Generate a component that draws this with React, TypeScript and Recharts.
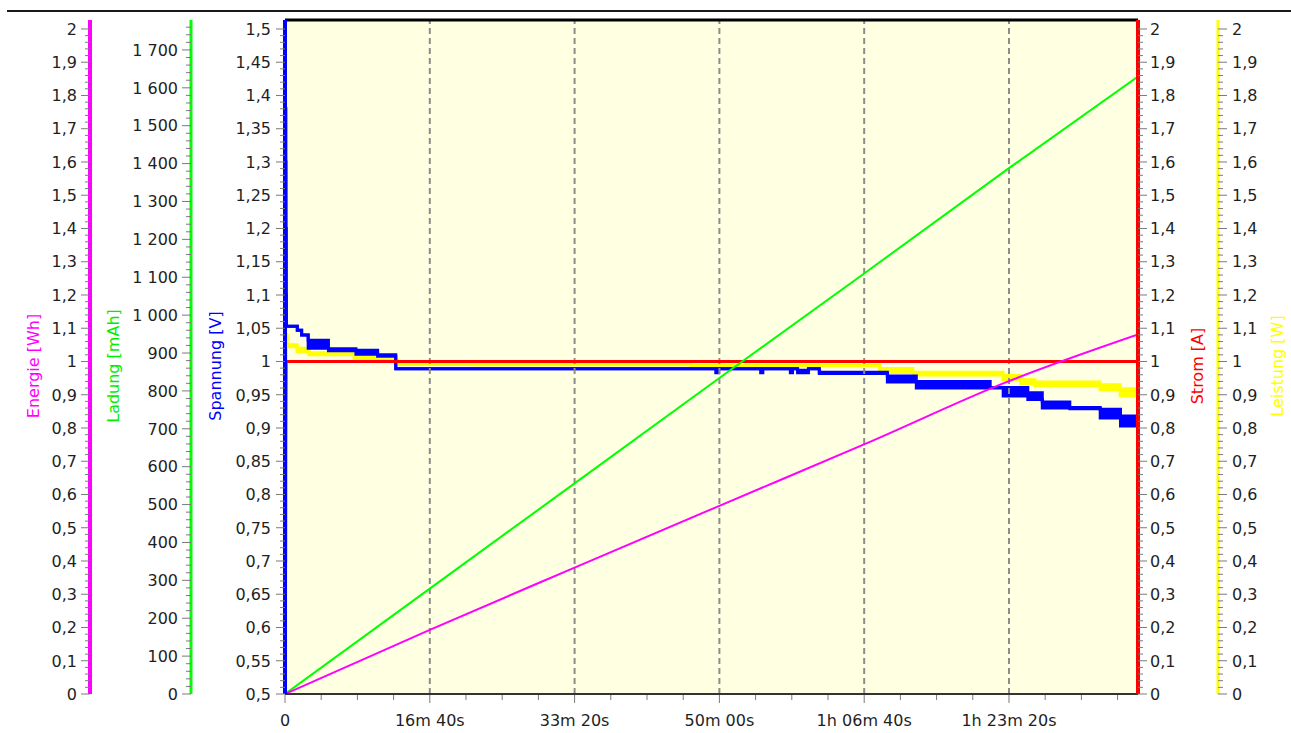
import React from "react";
import { Area, CartesianGrid, ComposedChart, Line, ReferenceLine, XAxis, YAxis } from "recharts";

const FONT = "'DejaVu Sans', Verdana, sans-serif";
const TEXT = "#1f1f1f";
const TICK = "#7a7a7a";

// Achsen-IDs: Recharts ordnet gleichseitige Achsen nach ID, die erste liegt innen
const Y_SPANNUNG = "y1_spannung";
const Y_LADUNG = "y2_ladung";
const Y_ENERGIE = "y3_energie";
const Y_STROM = "y1_strom";
const Y_LEISTUNG = "y2_leistung";

// Zeitachse in Sekunden
const xMajorTicks = [0, 1000, 2000, 3000, 4000, 5000];
const xTickLabels = ["0", "16m 40s", "33m 20s", "50m 00s", "1h 06m 40s", "1h 23m 20s"];
const xEnd = 5891;

const energieTicks = [0, 0.1, 0.2, 0.3, 0.4, 0.5, 0.6, 0.7, 0.8, 0.9, 1, 1.1, 1.2, 1.3, 1.4, 1.5, 1.6, 1.7, 1.8, 1.9, 2];
const ladungTicks = [0, 100, 200, 300, 400, 500, 600, 700, 800, 900, 1000, 1100, 1200, 1300, 1400, 1500, 1600, 1700];
const spannungTicks = [0.5, 0.55, 0.6, 0.65, 0.7, 0.75, 0.8, 0.85, 0.9, 0.95, 1, 1.05, 1.1, 1.15, 1.2, 1.25, 1.3, 1.35, 1.4, 1.45, 1.5];
const stromTicks = energieTicks;
const leistungTicks = energieTicks;

// [t, min, max] – Messwerte springen zwischen zwei Stufen, daher als Band
const spannung: [number, number, number][] = [
  [0, 0.5, 0.5], [1, 1.52, 1.52], [3, 1.3, 1.38], [6, 1.1, 1.2], [9, 1.053, 1.053],
  [85, 1.047, 1.047], [115, 1.04, 1.04], [160, 1.02, 1.032], [300, 1.016, 1.019],
  [490, 1.011, 1.017], [640, 1.008, 1.01], [765, 0.989, 0.989],
  [2975, 0.983, 0.989], [2995, 0.989, 0.989], [3285, 0.983, 0.989], [3300, 0.989, 0.989],
  [3490, 0.983, 0.989], [3505, 0.989, 0.989], [3540, 0.983, 0.987], [3615, 0.989, 0.989],
  [3690, 0.982, 0.984], [4160, 0.969, 0.978], [4360, 0.96, 0.97], [4870, 0.96, 0.961],
  [4960, 0.948, 0.961], [5130, 0.943, 0.953], [5230, 0.93, 0.939], [5420, 0.929, 0.931],
  [5630, 0.915, 0.928], [5770, 0.903, 0.918], [5891, 0.903, 0.91],
];

const leistung: [number, number, number][] = [
  [0, 0, 0], [4, 0.4, 0.4], [8, 1.08, 1.08], [14, 1.044, 1.05], [83, 1.03, 1.04],
  [166, 1.02, 1.026], [477, 1.008, 1.023], [636, 0.999, 1.005], [775, 0.991, 0.999],
  [1300, 0.99, 0.991], [2800, 0.988, 0.989], [4108, 0.967, 0.979], [4336, 0.959, 0.968],
  [4959, 0.945, 0.958], [5080, 0.932, 0.945], [5180, 0.928, 0.938], [5629, 0.915, 0.93],
  [5768, 0.897, 0.918], [5891, 0.897, 0.9],
];

// [t, Wert]
const strom: [number, number][] = [[0, 0], [3, 0.1], [5, 0.75], [8, 1], [5891, 1]];
const ladung: [number, number][] = [[0, 0], [1000, 278], [2000, 556], [3000, 834], [4000, 1110], [5000, 1388], [5891, 1630]];
const energie: [number, number][] = [[0, 0], [1000, 0.193], [2000, 0.38], [3000, 0.566], [4060, 0.762], [4960, 0.934], [5891, 1.081]];

const toBand = (rows: [number, number, number][]) => rows.map(([t, lo, hi]) => ({ t, v: [lo, hi] }));
const toLine = (rows: [number, number][]) => rows.map(([t, v]) => ({ t, v }));

function withMinor(major: number[], parts: number, extra: number[] = []) {
  const out: number[] = [];
  for (let i = 0; i < major.length; i++) {
    out.push(major[i]);
    if (i < major.length - 1) {
      const step = (major[i + 1] - major[i]) / parts;
      for (let k = 1; k < parts; k++) out.push(+(major[i] + k * step).toFixed(6));
    }
  }
  return [...out, ...extra];
}

const isIn = (list: number[], v: number) => list.some((m) => Math.abs(m - v) < 1e-6);
const fmtDec = (v: number) => String(+v.toFixed(2)).replace(".", ",");
const fmtThousand = (v: number) =>
  v >= 1000 ? `${Math.floor(v / 1000)} ${String(Math.round(v % 1000)).padStart(3, "0")}` : String(v);

function YTick(props: any) {
  const { x, y, payload, side, majors, fmt, gap } = props;
  const major = isIn(majors, payload.value);
  const dir = side === "left" ? -1 : 1;
  const len = major ? 9 : 5;
  return (
    <g>
      <line x1={x} x2={x + dir * len} y1={y} y2={y} stroke={TICK} strokeWidth={1} />
      {major && (
        <text
          x={x + dir * gap}
          y={y}
          dy="0.36em"
          textAnchor={side === "left" ? "end" : "start"}
          fontFamily={FONT}
          fontSize={16}
          fill={TEXT}
        >
          {fmt(payload.value)}
        </text>
      )}
    </g>
  );
}

function XTick(props: any) {
  const { x, y, payload } = props;
  const idx = xMajorTicks.indexOf(payload.value);
  const major = idx >= 0;
  return (
    <g>
      <line x1={x} x2={x} y1={y + 1} y2={y + (major ? 9 : 6)} stroke={TICK} strokeWidth={1} />
      {major && (
        <text x={x} y={y + 32} textAnchor="middle" fontFamily={FONT} fontSize={16} fill={TEXT}>
          {xTickLabels[idx]}
        </text>
      )}
    </g>
  );
}

const axisTitle = (text: string, color: string, dx: number) => (p: any) => {
  const vb = p.viewBox || { x: 0, y: 0, width: 0, height: 0 };
  const cx = vb.x + dx;
  const cy = vb.y + vb.height / 2 + 9;
  return (
    <text
      x={cx}
      y={cy}
      transform={`rotate(-90 ${cx} ${cy})`}
      textAnchor="middle"
      dominantBaseline="central"
      fontFamily={FONT}
      fontSize={16}
      fill={color}
    >
      {text}
    </text>
  );
};

export default function App() {
  return (
    <div style={{ position: "fixed", left: 0, top: 0, width: 1291, height: 733, background: "#fff" }}>
      <div style={{ position: "absolute", left: 7, top: 10, width: 1284, height: 2, background: "#1a1a1a" }} />
      <div style={{ position: "absolute", left: 8, top: 8 }}>
        <ComposedChart width={1283} height={725} margin={{ top: 12, right: 8, bottom: 0, left: 0 }}>
          <CartesianGrid yAxisId={Y_SPANNUNG} horizontal={false} vertical={false} fill="#FFFFE1" stroke="none" />

          <XAxis
            dataKey="t"
            type="number"
            domain={[0, xEnd]}
            allowDataOverflow
            ticks={withMinor(xMajorTicks, 4, [5250, 5500, 5750])}
            interval={0}
            height={39}
            tickSize={0}
            tickMargin={0}
            tickLine={false}
            axisLine={{ stroke: "#333", strokeWidth: 2 }}
            tick={<XTick />}
          />

          <YAxis
            yAxisId={Y_SPANNUNG}
            orientation="left"
            width={94}
            type="number"
            domain={[0.5, 1.5135]}
            allowDataOverflow
            ticks={withMinor(spannungTicks, 5)}
            interval={0}
            tickSize={0}
            tickMargin={0}
            tickLine={false}
            axisLine={{ stroke: "#0000ff", strokeWidth: 4 }}
            tick={<YTick side="left" majors={spannungTicks} fmt={fmtDec} gap={14} />}
            label={{ content: axisTitle("Spannung [V]", "#0000ff", 24) }}
          />
          <YAxis
            yAxisId={Y_LADUNG}
            orientation="left"
            width={101}
            type="number"
            domain={[0, 1779]}
            allowDataOverflow
            ticks={withMinor(ladungTicks, 5, [1720, 1740, 1760])}
            interval={0}
            tickSize={0}
            tickMargin={0}
            tickLine={false}
            axisLine={{ stroke: "#00ff00", strokeWidth: 3 }}
            tick={<YTick side="left" majors={ladungTicks} fmt={fmtThousand} gap={13} />}
            label={{ content: axisTitle("Ladung [mAh]", "#00ee00", 23) }}
          />
          <YAxis
            yAxisId={Y_ENERGIE}
            orientation="left"
            width={82}
            type="number"
            domain={[0, 2.027]}
            allowDataOverflow
            ticks={withMinor(energieTicks, 5)}
            interval={0}
            tickSize={0}
            tickMargin={0}
            tickLine={false}
            axisLine={{ stroke: "#ff00ff", strokeWidth: 4 }}
            tick={<YTick side="left" majors={energieTicks} fmt={fmtDec} gap={13} />}
            label={{ content: axisTitle("Energie [Wh]", "#ff00ff", 25) }}
          />
          <YAxis
            yAxisId={Y_STROM}
            orientation="right"
            width={80}
            type="number"
            domain={[0, 2.027]}
            allowDataOverflow
            ticks={withMinor(stromTicks, 5)}
            interval={0}
            tickSize={0}
            tickMargin={0}
            tickLine={false}
            axisLine={{ stroke: "#ff0000", strokeWidth: 4 }}
            tick={<YTick side="right" majors={stromTicks} fmt={fmtDec} gap={12} />}
            label={{ content: axisTitle("Strom [A]", "#ff0000", 59) }}
          />
          <YAxis
            yAxisId={Y_LEISTUNG}
            orientation="right"
            width={65}
            type="number"
            domain={[0, 2.027]}
            allowDataOverflow
            ticks={withMinor(leistungTicks, 5)}
            interval={0}
            tickSize={0}
            tickMargin={0}
            tickLine={false}
            axisLine={{ stroke: "#ffff00", strokeWidth: 3 }}
            tick={<YTick side="right" majors={leistungTicks} fmt={fmtDec} gap={14} />}
            label={{ content: axisTitle("Leistung [W]", "#ffff00", 59) }}
          />

          {xMajorTicks.slice(1).map((t) => (
            <ReferenceLine
              key={t}
              x={t}
              yAxisId={Y_SPANNUNG}
              stroke="#8c8c8c"
              strokeWidth={2}
              strokeDasharray="6 4"
            />
          ))}

          <Line
            yAxisId={Y_STROM}
            data={toLine(strom)}
            dataKey="v"
            type="linear"
            stroke="#ff0000"
            strokeWidth={3}
            dot={false}
            activeDot={false}
            isAnimationActive={false}
          />
          <Area
            yAxisId={Y_LEISTUNG}
            data={toBand(leistung)}
            dataKey="v"
            type="stepAfter"
            stroke="#ffff00"
            strokeWidth={3}
            fill="#ffff00"
            fillOpacity={1}
            dot={false}
            activeDot={false}
            isAnimationActive={false}
          />
          <Area
            yAxisId={Y_SPANNUNG}
            data={toBand(spannung)}
            dataKey="v"
            type="stepAfter"
            stroke="#0000ff"
            strokeWidth={3}
            fill="#0000ff"
            fillOpacity={1}
            dot={false}
            activeDot={false}
            isAnimationActive={false}
          />
          <Line
            yAxisId={Y_LADUNG}
            data={toLine(ladung)}
            dataKey="v"
            type="linear"
            stroke="#00ff00"
            strokeWidth={2}
            dot={false}
            activeDot={false}
            isAnimationActive={false}
          />
          <Line
            yAxisId={Y_ENERGIE}
            data={toLine(energie)}
            dataKey="v"
            type="monotone"
            stroke="#ff00ff"
            strokeWidth={2}
            dot={false}
            activeDot={false}
            isAnimationActive={false}
          />

          <ReferenceLine yAxisId={Y_SPANNUNG} y={1.5135} stroke="#000" strokeWidth={3} ifOverflow="visible" />
        </ComposedChart>
      </div>
    </div>
  );
}
